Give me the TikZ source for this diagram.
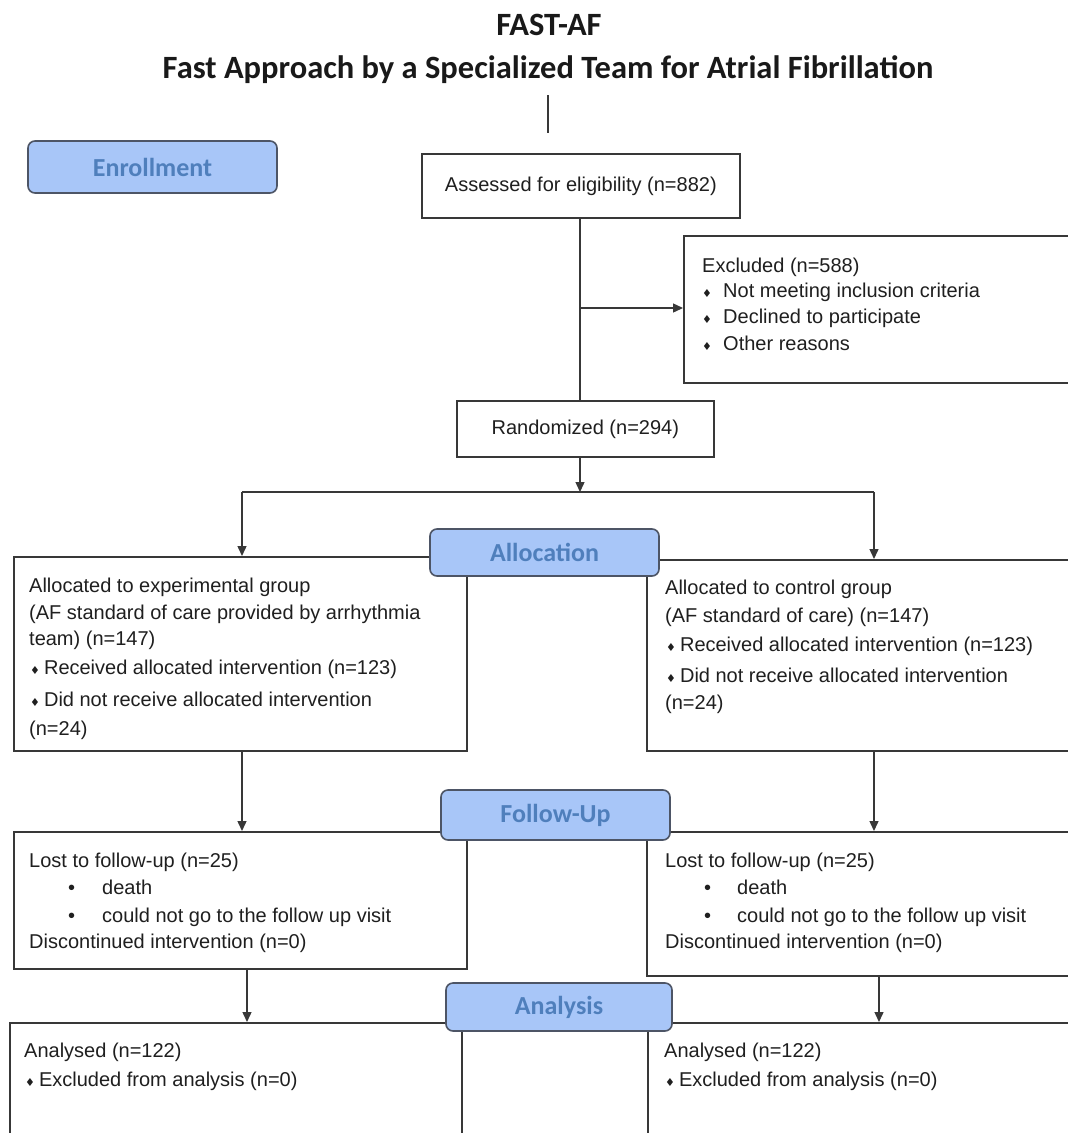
\documentclass[tikz,border=0pt]{standalone}
\usepackage{fontspec}
\setmainfont{Liberation Sans}
\newfontfamily\calibri{Carlito}
\newfontfamily\dejavu{DejaVu Sans}
\usetikzlibrary{arrows.meta}
\definecolor{lblfill}{HTML}{A8C6F8}
\definecolor{lbltext}{HTML}{4F7FBC}
\definecolor{lbledge}{HTML}{4D5566}
\definecolor{ln}{HTML}{383838}
\newcommand{\dia}{{\dejavu\fontsize{11}{11}\selectfont ♦}}
\tikzset{
  flowbox/.style={draw=ln, line width=1.7pt, fill=white, rectangle, inner sep=0pt, anchor=north west},
  lbl/.style={draw=lbledge, line width=1.6pt, fill=lblfill, rounded corners=7pt, inner sep=0pt, text=lbltext, font=\calibri\bfseries\fontsize{26}{30}\selectfont},
  txt/.style={inner sep=0pt, anchor=base west, font=\fontsize{20}{24}\selectfont, text=black!88},
  conn/.style={draw=ln, line width=1.4pt},
  arr/.style={conn, -{Triangle[length=10pt,width=9pt]}},
  ttl/.style={inner sep=0pt, anchor=base, text=black!90, font=\calibri\bfseries},
}
\begin{document}
\begin{tikzpicture}[x=1pt,y=-1pt]
\useasboundingbox (0,0) rectangle (1068,1133);
\fill[white] (0,0) rectangle (1068,1133);

% titles
\node[ttl, font=\calibri\bfseries\fontsize{32.5}{36}\selectfont] (title) at (549,35) {FAST-AF};
\node[ttl, font=\calibri\bfseries\fontsize{32.5}{36}\selectfont] (subtitle) at (548,78) {Fast Approach by a Specialized Team for Atrial Fibrillation};
\coordinate (tl1) at (548,95);
\coordinate (tl2) at (548,133);
\draw[conn] (tl1) -- (tl2);

% boxes
\node[flowbox, minimum width=318pt, minimum height=64pt, font=\fontsize{20}{24}\selectfont, text=black!88] (assess) at (421,153) {Assessed for eligibility (n=882)};
\node[flowbox, minimum width=410pt, minimum height=147pt] (excl) at (683,235) {};
\node[flowbox, minimum width=257pt, minimum height=56pt, font=\fontsize{20}{24}\selectfont, text=black!88] (rand) at (456,400) {Randomized (n=294)};
\node[flowbox, minimum width=453pt, minimum height=194pt] (allocL) at (13,556) {};
\node[flowbox, minimum width=450pt, minimum height=191pt] (allocR) at (646,559) {};
\node[flowbox, minimum width=453pt, minimum height=137pt] (fuL) at (13,831) {};
\node[flowbox, minimum width=450pt, minimum height=144pt] (fuR) at (646,831) {};
\node[flowbox, minimum width=452pt, minimum height=140pt] (anL) at (9,1022) {};
\node[flowbox, minimum width=450pt, minimum height=140pt] (anR) at (647,1022) {};

% connectors
\coordinate (exbranch) at (580,308);
\coordinate (split) at (580,492);
\coordinate (splitL) at (242,492);
\coordinate (splitR) at (874,492);
\draw[conn] (assess.south -| exbranch) -- (rand.north -| exbranch);
\draw[arr] (exbranch) -- (excl.west |- exbranch);
\draw[arr] (rand.south -| split) -- (split);
\draw[conn] (splitL) -- (splitR);
\draw[arr] (splitL) -- (allocL.north -| splitL);
\draw[arr] (splitR) -- (allocR.north -| splitR);
\draw[arr] (allocL.south -| splitL) -- (fuL.north -| splitL);
\draw[arr] (allocR.south -| splitR) -- (fuR.north -| splitR);
\coordinate (anLx) at (247,0);
\coordinate (anRx) at (879,0);
\draw[arr] (fuL.south -| anLx) -- (anL.north -| anLx);
\draw[arr] (fuR.south -| anRx) -- (anR.north -| anRx);

% stage labels
\node[lbl, minimum width=249pt, minimum height=52pt] (enroll) at (152.5,167) {Enrollment};
\node[lbl, minimum width=229pt, minimum height=47pt] (alloc) at (544.5,552.5) {Allocation};
\node[lbl, minimum width=229pt, minimum height=50pt] (follow) at (555.5,815) {Follow-Up};
\node[lbl, minimum width=226pt, minimum height=48pt] (analysis) at (559,1007) {Analysis};

% excluded text
\node[txt] (ex0) at (702,272) {Excluded (n=588)};
\node[txt] (exb1) at (702,297) {\dia};
\node[txt] (ex1) at (723,297) {Not meeting inclusion criteria};
\node[txt] (exb2) at (702,323) {\dia};
\node[txt] (ex2) at (723,323) {Declined to participate};
\node[txt] (exb3) at (702,350) {\dia};
\node[txt] (ex3) at (723,350) {Other reasons};

% allocation left
\node[txt] (al1) at (29,592) {Allocated to experimental group};
\node[txt] (al2) at (29,619) {(AF standard of care provided by arrhythmia};
\node[txt] (al3) at (29,645) {team) (n=147)};
\node[txt] (al4) at (30,674) {\dia\hspace{4pt}Received allocated intervention (n=123)};
\node[txt] (al5) at (30,706) {\dia\hspace{4pt}Did not receive allocated intervention};
\node[txt] (al6) at (29,735) {(n=24)};

% allocation right
\node[txt] (ar1) at (665,594) {Allocated to control group};
\node[txt] (ar2) at (665,622) {(AF standard of care) (n=147)};
\node[txt] (ar3) at (666,651) {\dia\hspace{4pt}Received allocated intervention (n=123)};
\node[txt] (ar4) at (666,682) {\dia\hspace{4pt}Did not receive allocated intervention};
\node[txt] (ar5) at (665,709) {(n=24)};

% follow-up left
\node[txt] (fl1) at (29,867) {Lost to follow-up (n=25)};
\node[txt] (flb1) at (68,894) {•};
\node[txt] (fl2) at (102,894) {death};
\node[txt] (flb2) at (68,922) {•};
\node[txt] (fl3) at (102,922) {could not go to the follow up visit};
\node[txt] (fl4) at (29,948) {Discontinued intervention (n=0)};

% follow-up right
\node[txt] (fr1) at (665,867) {Lost to follow-up (n=25)};
\node[txt] (frb1) at (704,894) {•};
\node[txt] (fr2) at (737,894) {death};
\node[txt] (frb2) at (704,922) {•};
\node[txt] (fr3) at (737,922) {could not go to the follow up visit};
\node[txt] (fr4) at (665,948) {Discontinued intervention (n=0)};

% analysis
\node[txt] (nl1) at (24,1057) {Analysed (n=122)};
\node[txt] (nl2) at (25,1086) {\dia\hspace{4pt}Excluded from analysis (n=0)};
\node[txt] (nr1) at (664,1057) {Analysed (n=122)};
\node[txt] (nr2) at (665,1086) {\dia\hspace{4pt}Excluded from analysis (n=0)};
\end{tikzpicture}
\end{document}
